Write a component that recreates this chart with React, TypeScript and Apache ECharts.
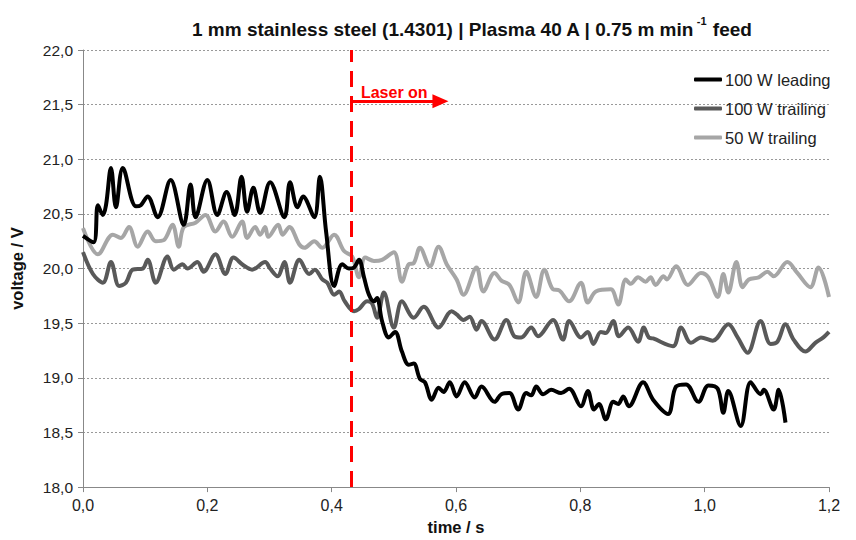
import React, { useEffect, useRef } from "react";
import * as echarts from "echarts";

// 100 W leading
const leadingT = [0, 0.017, 0.024, 0.032, 0.037, 0.045, 0.053, 0.064, 0.085, 0.093, 0.104, 0.12, 0.141, 0.162, 0.173, 0.181, 0.2, 0.216, 0.231, 0.244, 0.255, 0.264, 0.274, 0.285, 0.301, 0.324, 0.333, 0.345, 0.354, 0.372, 0.381, 0.391, 0.404, 0.417, 0.428, 0.436, 0.444, 0.452, 0.46, 0.468, 0.473, 0.481, 0.492, 0.502, 0.513, 0.524, 0.532, 0.542, 0.55, 0.561, 0.572, 0.58, 0.59, 0.601, 0.614, 0.63, 0.641, 0.662, 0.673, 0.686, 0.7, 0.713, 0.721, 0.729, 0.74, 0.753, 0.769, 0.782, 0.801, 0.812, 0.822, 0.83, 0.841, 0.853, 0.861, 0.869, 0.878, 0.901, 0.917, 0.941, 0.954, 0.97, 0.99, 1.006, 1.021, 1.03, 1.038, 1.058, 1.074, 1.09, 1.095, 1.111, 1.119, 1.13];
const leadingV = [20.3, 20.24, 20.58, 20.49, 20.58, 20.92, 20.56, 20.92, 20.57, 20.58, 20.66, 20.47, 20.81, 20.4, 20.77, 20.47, 20.81, 20.49, 20.7, 20.49, 20.84, 20.52, 20.74, 20.51, 20.79, 20.47, 20.79, 20.56, 20.66, 20.47, 20.84, 20.34, 19.84, 20.04, 20.0, 20.01, 20.08, 19.92, 19.76, 19.7, 19.73, 19.52, 19.37, 19.42, 19.24, 19.12, 19.13, 18.99, 18.96, 18.8, 18.91, 18.87, 18.96, 18.83, 18.96, 18.82, 18.92, 18.78, 18.85, 18.86, 18.71, 18.86, 18.84, 18.92, 18.85, 18.89, 18.86, 18.9, 18.74, 18.88, 18.71, 18.76, 18.62, 18.78, 18.76, 18.83, 18.74, 18.96, 18.8, 18.67, 18.92, 18.94, 18.78, 18.93, 18.9, 18.68, 18.88, 18.56, 18.96, 18.85, 18.89, 18.71, 18.89, 18.59];

// 100 W trailing
const trailing100T = [0, 0.016, 0.032, 0.045, 0.058, 0.069, 0.08, 0.096, 0.104, 0.117, 0.136, 0.146, 0.16, 0.168, 0.184, 0.194, 0.213, 0.229, 0.242, 0.258, 0.272, 0.293, 0.301, 0.313, 0.324, 0.333, 0.348, 0.364, 0.373, 0.385, 0.393, 0.404, 0.412, 0.421, 0.436, 0.444, 0.457, 0.465, 0.473, 0.484, 0.5, 0.513, 0.532, 0.548, 0.572, 0.593, 0.601, 0.612, 0.622, 0.633, 0.641, 0.662, 0.681, 0.694, 0.705, 0.721, 0.732, 0.756, 0.772, 0.782, 0.801, 0.812, 0.821, 0.833, 0.841, 0.853, 0.862, 0.877, 0.893, 0.902, 0.91, 0.917, 0.949, 0.962, 0.978, 0.994, 1.013, 1.038, 1.053, 1.069, 1.09, 1.106, 1.117, 1.13, 1.143, 1.162, 1.178, 1.191, 1.2];
const trailing100V = [20.15, 19.95, 19.87, 20.06, 19.84, 19.87, 19.99, 20.0, 20.08, 19.87, 20.11, 19.99, 20.04, 20.0, 20.06, 19.97, 20.13, 19.95, 20.1, 20.03, 19.99, 20.06, 20.0, 19.93, 20.06, 19.87, 20.08, 19.95, 19.99, 19.9, 19.87, 19.76, 19.79, 19.7, 19.61, 19.63, 19.7, 19.68, 19.55, 19.78, 19.46, 19.7, 19.55, 19.65, 19.46, 19.61, 19.58, 19.53, 19.56, 19.44, 19.52, 19.35, 19.53, 19.38, 19.37, 19.46, 19.38, 19.53, 19.35, 19.52, 19.37, 19.42, 19.31, 19.42, 19.41, 19.52, 19.38, 19.46, 19.33, 19.46, 19.37, 19.36, 19.29, 19.46, 19.32, 19.37, 19.34, 19.49, 19.37, 19.23, 19.52, 19.31, 19.33, 19.49, 19.35, 19.24, 19.32, 19.37, 19.42];

// 50 W trailing
const trailing50T = [0, 0.024, 0.048, 0.061, 0.074, 0.088, 0.104, 0.117, 0.13, 0.144, 0.154, 0.162, 0.181, 0.197, 0.213, 0.226, 0.24, 0.256, 0.264, 0.277, 0.285, 0.293, 0.298, 0.314, 0.321, 0.332, 0.348, 0.356, 0.372, 0.385, 0.404, 0.42, 0.433, 0.444, 0.454, 0.468, 0.481, 0.5, 0.513, 0.524, 0.532, 0.542, 0.558, 0.572, 0.585, 0.601, 0.612, 0.633, 0.644, 0.662, 0.673, 0.686, 0.7, 0.713, 0.729, 0.742, 0.756, 0.766, 0.782, 0.801, 0.812, 0.825, 0.849, 0.861, 0.873, 0.881, 0.893, 0.905, 0.913, 0.921, 0.934, 0.939, 0.954, 0.973, 0.994, 1.006, 1.021, 1.03, 1.038, 1.051, 1.061, 1.071, 1.087, 1.101, 1.111, 1.133, 1.149, 1.17, 1.183, 1.2];
const trailing50V = [20.37, 20.13, 20.31, 20.28, 20.38, 20.2, 20.34, 20.25, 20.26, 20.4, 20.2, 20.38, 20.42, 20.49, 20.34, 20.43, 20.29, 20.43, 20.28, 20.38, 20.31, 20.38, 20.29, 20.4, 20.31, 20.38, 20.22, 20.19, 20.25, 20.19, 20.31, 20.16, 20.11, 19.92, 20.1, 20.07, 20.08, 20.15, 19.88, 20.04, 20.05, 20.19, 20.02, 20.2, 20.04, 19.9, 19.76, 20.01, 19.79, 19.96, 19.89, 19.85, 19.69, 19.97, 19.74, 19.99, 19.81, 19.8, 19.7, 19.87, 19.69, 19.79, 19.81, 19.67, 19.9, 19.86, 19.92, 19.88, 19.92, 19.85, 19.93, 19.9, 20.02, 19.85, 19.96, 19.92, 19.74, 19.95, 19.78, 20.06, 19.83, 19.9, 19.92, 19.97, 19.93, 20.06, 19.96, 19.83, 20.01, 19.74];

const seriesNames = ["100 W leading", "100 W trailing", "50 W trailing"];
const laserOnTime = 0.431;
const arrowEndTime = 0.575;
const arrowVoltage = 21.53;

const zip = (t: number[], v: number[]) => t.map((x, i) => [x, v[i]]);
const fmt = (v: number) => v.toFixed(1).replace(".", ",");

export default function App() {
  const ref = useRef<HTMLDivElement>(null);
  useEffect(() => {
    if (!ref.current) return;
    const chart = echarts.init(ref.current, undefined, { renderer: "svg" });
    const font = "'Liberation Sans', Arial, Helvetica, sans-serif";
    const lineSeries = (name: string, data: number[][], color: string, z: number) => ({
      name,
      type: "line",
      data,
      showSymbol: false,
      symbol: "none",
      smooth: 0.35,
      z,
      lineStyle: { color, width: 4 },
      itemStyle: { color },
    });
    chart.setOption({
      animation: false,
      textStyle: { fontFamily: font },
      title: {
        text: "{a|1 mm stainless steel (1.4301) | Plasma 40 A | 0.75 m min}{s|-1}{a| feed}",
        left: 187,
        top: 10,
        textStyle: {
          rich: {
            a: { fontSize: 19, fontWeight: "bold", color: "#111", fontFamily: font, lineHeight: 24, verticalAlign: "bottom" },
            s: { fontSize: 11, fontWeight: "bold", color: "#111", fontFamily: font, lineHeight: 24, verticalAlign: "top", padding: [0, 1, 0, 2] },
          },
        },
      },
      legend: {
        data: seriesNames,
        orient: "vertical",
        left: 689,
        top: 66,
        itemWidth: 28,
        itemHeight: 4,
        itemGap: 12,
        icon: "roundRect",
        textStyle: { fontSize: 16.5, color: "#222", fontFamily: font, padding: [0, 0, 0, -2] },
      },
      grid: { left: 80, right: 27, top: 50, bottom: 52, containLabel: false },
      xAxis: {
        type: "value",
        min: 0,
        max: 1.2,
        interval: 0.2,
        name: "time / s",
        nameLocation: "middle",
        nameGap: 24,
        nameTextStyle: { fontSize: 16.5, fontWeight: "bold", color: "#111" },
        axisLine: { lineStyle: { color: "#888", width: 1 } },
        axisTick: { show: true, length: 5, lineStyle: { color: "#888" } },
        axisLabel: { formatter: fmt, fontSize: 16, color: "#222", margin: 10 },
        splitLine: { show: false },
      },
      yAxis: {
        type: "value",
        min: 18,
        max: 22,
        interval: 0.5,
        name: "voltage / V",
        nameLocation: "middle",
        nameGap: 58,
        nameRotate: 90,
        nameTextStyle: { fontSize: 16.5, fontWeight: "bold", color: "#111" },
        axisLine: { show: true, lineStyle: { color: "#888", width: 1 } },
        axisTick: { show: true, length: 5, lineStyle: { color: "#888" } },
        axisLabel: { formatter: fmt, fontSize: 15.5, color: "#222", margin: 10 },
        splitLine: { show: true, lineStyle: { color: "#999", type: [2, 2], width: 1 } },
      },
      series: [
        lineSeries(seriesNames[2], zip(trailing50T, trailing50V), "#a6a6a6", 2),
        lineSeries(seriesNames[1], zip(trailing100T, trailing100V), "#595959", 3),
        lineSeries(seriesNames[0], zip(leadingT, leadingV), "#000000", 4),
        {
          name: "marker",
          type: "line",
          data: [],
          z: 5,
          markLine: {
            silent: true,
            animation: false,
            data: [
              [
                { coord: [laserOnTime, 18], symbol: "none", lineStyle: { color: "#ff0000", width: 3, type: [16, 9] }, label: { show: false } },
                { coord: [laserOnTime, 22], symbol: "none" },
              ],
              [
                {
                  coord: [laserOnTime, arrowVoltage],
                  symbol: "none",
                  lineStyle: { color: "#ff0000", width: 3, type: "solid" },
                  label: {
                    show: true,
                    formatter: "Laser on",
                    position: "insideStartTop",
                    distance: [10, 1],
                    color: "#ff0000",
                    fontWeight: "bold",
                    fontSize: 16,
                    fontFamily: font,
                  },
                },
                { coord: [arrowEndTime, arrowVoltage], symbol: "triangle", symbolSize: [14, 16], symbolRotate: -90 },
              ],
            ],
          },
        },
      ],
    });
    return () => chart.dispose();
  }, []);
  return <div ref={ref} style={{ width: 856, height: 540, position: "absolute", left: 0, top: 0 }} />;
}
